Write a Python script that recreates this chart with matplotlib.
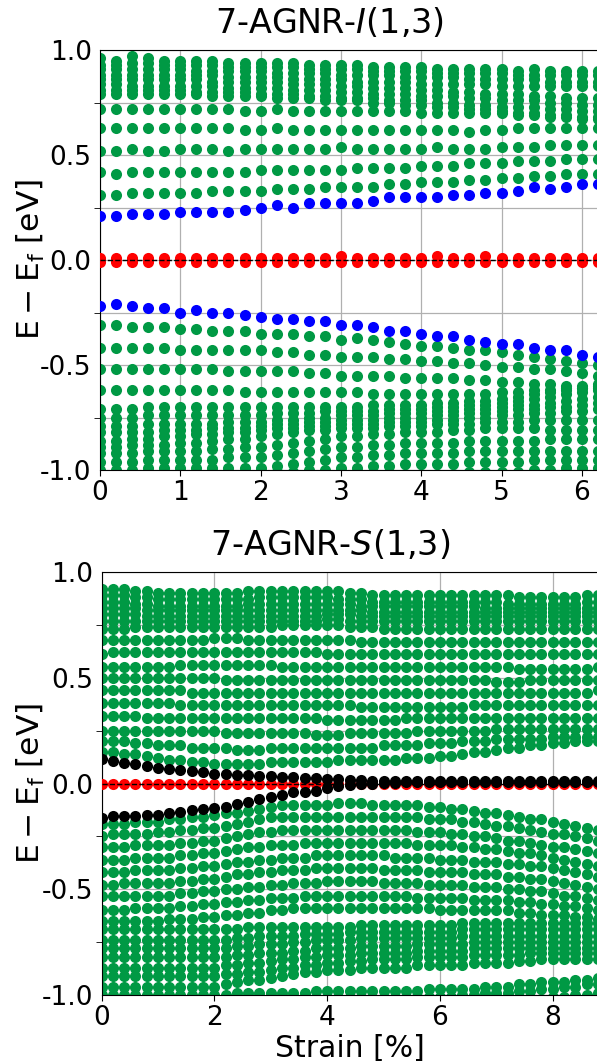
import matplotlib
matplotlib.use("Agg")
import matplotlib.pyplot as plt
import numpy as np

plt.rcParams['font.family'] = ['DejaVu Sans']
plt.rcParams['axes.unicode_minus'] = False

# ---------------- data ----------------
# strain values [%]
strain_top = [0.0, 0.2, 0.4, 0.6, 0.8, 1.0, 1.2, 1.4, 1.6, 1.8, 2.0, 2.2, 2.4, 2.6, 2.8, 3.0,
              3.2, 3.4, 3.6, 3.8, 4.0, 4.2, 4.4, 4.6, 4.8, 5.0, 5.2, 5.4, 5.6, 5.8, 6.0, 6.2]
strain_bot = [0.0, 0.2, 0.4, 0.6, 0.8, 1.0, 1.2, 1.4, 1.6, 1.8, 2.0, 2.2, 2.4, 2.6, 2.8, 3.0,
              3.2, 3.4, 3.6, 3.8, 4.0, 4.2, 4.4, 4.6, 4.8, 5.0, 5.2, 5.4, 5.6, 5.8, 6.0, 6.2,
              6.4, 6.6, 6.8, 7.0, 7.2, 7.4, 7.6, 7.8, 8.0, 8.2, 8.4, 8.6, 8.8]

# ---- top panel: 7-AGNR-I(1,3), energies in units of 0.01 eV ----
t_red1 = [1,1,1,1,1,1,1,1,1,1,1,1,1,1,1,2,1,1,1,1,1,2,1,1,2,1,1,1,1,1,1,1]
t_red2 = [-1,-1,-1,-1,-1,-1,-1,-1,-1,-1,-1,-1,-1,-1,-1,-1,-1,-1,-1,-1,-1,-1,-1,-1,-1,-1,-1,-1,-1,-1,-1,-1]
t_blue_up = [21,21,22,22,22,23,23,23,23,24,25,26,25,27,27,27,27,28,30,30,30,30,31,31,32,32,33,35,34,35,36,36]
t_blue_dn = [-22,-21,-22,-23,-23,-25,-24,-25,-25,-26,-27,-28,-28,-29,-29,-31,-31,-32,-34,-34,-35,-36,-36,-38,-39,-40,-40,-42,-43,-43,-45,-46]
t_g1 = [31,31,32,32,32,32,32,33,33,33,33,34,34,34,35,35,35,35,36,36,37,37,37,38,38,39,39,40,40,41,41,41]
t_g2 = [42,41,42,42,42,42,42,42,42,42,43,43,43,43,43,43,44,44,44,44,45,45,45,46,46,46,47,47,47,48,48,48]
t_g3 = [52,52,53,52,52,53,53,53,52,53,53,53,53,53,53,54,53,53,53,53,53,54,53,53,53,54,54,54,55,55,55,55]
t_g4 = [63,63,63,63,63,63,63,63,63,62,62,63,62,62,62,62,62,62,62,62,62,62,62,61,62,62,63,63,63,63,63,63]
t_g5 = [72,72,72,72,72,72,72,72,72,71,71,72,71,71,71,71,71,71,71,71,70,70,70,70,70,70,69,69,68,68,67,67]
t_c1 = [96,95,97,96,95,95,95,95,94,94,94,94,94,93,93,93,93,92,92,92,92,91,91,91,91,91,90,91,90,90,90,90]
t_c2 = [93,93,94,94,93,93,93,93,92,92,92,92,92,91,91,91,91,90,90,90,90,89,89,89,89,89,88,88,88,88,88,88]
t_c3 = [91,91,91,91,91,91,90,90,90,90,90,89,89,89,89,88,88,88,88,87,87,87,87,86,86,86,86,86,85,85,85,85]
t_c4 = [88,88,88,88,88,88,88,88,87,87,87,87,86,86,86,86,85,85,85,85,84,84,84,84,84,83,83,83,83,83,83,83]
t_c5 = [86,86,86,86,86,86,86,85,85,85,85,85,84,84,84,83,83,82,82,82,81,81,80,80,79,79,79,78,78,77,77,77]
t_c6 = [84,84,83,83,83,83,83,83,82,82,82,82,81,81,81,80,80,79,79,79,78,78,78,77,77,76,76,76,75,75,74,74]
t_c7 = [81,81,81,81,81,81,80,80,80,80,79,79,79,78,78,77,77,77,76,76,76,75,75,74,74,73,73,73,72,72,71,71]
t_c8 = [79,79,79,79,79,79,79,78,78,78,78,77,77,77,76,76,76,75,75,74,74,73,73,72,72,71,70,70,69,69,68,68]
t_l1 = [-31,-31,-32,-32,-32,-33,-33,-34,-34,-34,-35,-35,-35,-36,-36,-38,-37,-38,-39,-40,-41,-41,-42,-43,-43,-44,-45,-46,-47,-48,-49,-50]
t_l2 = [-42,-42,-42,-42,-42,-43,-43,-43,-43,-43,-43,-44,-44,-45,-45,-46,-46,-46,-47,-47,-48,-48,-49,-49,-50,-51,-51,-52,-52,-53,-54,-55]
t_l3 = [-52,-52,-52,-52,-52,-52,-52,-52,-53,-53,-53,-53,-53,-54,-54,-55,-55,-55,-55,-56,-56,-56,-56,-57,-57,-58,-58,-59,-59,-60,-61,-61]
t_l4 = [-62,-62,-62,-62,-62,-62,-62,-62,-62,-63,-63,-63,-63,-63,-63,-63,-63,-64,-64,-64,-64,-64,-64,-64,-64,-63,-63,-62,-62,-61,-61,-60]
t_k1 = [-71,-71,-71,-70,-70,-70,-70,-70,-70,-70,-70,-70,-70,-70,-70,-70,-70,-69,-69,-69,-69,-68,-68,-67,-67,-66,-65,-64,-63,-62,-60,-59]
t_k2 = [-75,-75,-75,-74,-74,-74,-74,-74,-74,-74,-74,-73,-73,-73,-72,-72,-72,-72,-71,-71,-71,-70,-70,-69,-69,-68,-67,-66,-65,-64,-63,-62]
t_k3 = [-79,-79,-79,-78,-78,-78,-78,-78,-77,-77,-77,-76,-76,-75,-75,-74,-74,-74,-73,-73,-73,-72,-72,-71,-71,-70,-69,-69,-68,-67,-66,-65]
t_k4 = [-82,-82,-82,-82,-81,-81,-81,-80,-80,-80,-79,-78,-78,-77,-77,-76,-76,-76,-75,-75,-75,-74,-74,-73,-73,-72,-71,-71,-70,-70,-69,-68]
t_k5 = [-86,-86,-85,-85,-84,-84,-83,-83,-82,-82,-81,-80,-80,-79,-79,-78,-78,-78,-77,-77,-77,-76,-76,-75,-75,-74,-74,-73,-73,-72,-72,-71]
t_k6 = [-89,-89,-88,-88,-88,-87,-87,-86,-85,-85,-84,-83,-82,-81,-81,-80,-80,-80,-79,-79,-79,-78,-78,-78,-77,-77,-77,-76,-76,-76,-76,-76]
t_k7 = [-92,-92,-92,-91,-91,-91,-91,-90,-90,-89,-89,-88,-87,-86,-85,-84,-84,-83,-83,-82,-82,-82,-81,-81,-80,-80,-80,-80,-81,-81,-81,-81]
t_k8 = [-96,-96,-96,-95,-95,-95,-95,-95,-94,-94,-94,-93,-92,-91,-90,-89,-89,-88,-88,-87,-87,-87,-87,-86,-86,-86,-86,-86,-85,-85,-85,-85]
t_k9 = [-100,-100,-100,-99,-99,-99,-99,-99,-99,-99,-99,-98,-97,-96,-95,-94,-94,-93,-93,-92,-92,-92,-92,-91,-91,-91,-91,-91,-91,-91,-91,-91]
t_k10 = [-104,-104,-104,-103,-103,-103,-103,-103,-102,-102,-102,-101,-101,-100,-100,-99,-99,-98,-98,-97,-97,-97,-97,-96,-96,-96,-96,-95,-95,-95,-95,-95]
t_k11 = [-108,-108,-107,-107,-107,-107,-107,-106,-106,-106,-106,-106,-105,-105,-104,-104,-104,-103,-103,-102,-102,-102,-102,-101,-101,-101,-101,-100,-100,-99,-99,-99]

# ---- bottom panel: 7-AGNR-S(1,3), energies in units of 0.01 eV ----
b_red = [0,0,0,0,0,0,0,0,0,0,0,0,0,0,0,0,0,0,0,0,0,0,0,0,0,0,0,0,0,0,0,0,0,0,0,0,0,0,0,0,0,0,0,0,0]
b_blk1 = [11.4,10.8,9.9,9.0,8.3,7.4,7.0,6.2,5.8,5.4,4.7,4.4,4.1,4.0,3.7,3.4,3.1,2.9,2.7,2.5,2.1,1.9,1.7,1.5,1.4,
          1.3,1.2,1.2,1.1,1.1,1.1,1.1,1.1,1.0,1.0,1.0,1.0,1.0,1.0,1.0,1.0,1.0,1.0,1.0,1.0]
b_blk2 = [-16.2,-15.6,-15.3,-15.3,-14.8,-14.8,-13.9,-13.3,-12.5,-12.0,-11.6,-10.9,-9.7,-8.6,-7.3,-6.2,-5.3,-4.2,-3.9,-3.4,
          -1.9,-1.1,-0.6,-0.2,0.0,0.2,0.4,0.5,0.5,0.6,0.6,0.6,0.6,0.6,0.6,0.6,0.6,0.6,0.6,0.6,0.6,0.6,0.6,0.6,0.6]
b_gu1 = [15,15,14,14,13,12,11,11,10,10,9,9,9,9,9,10,10,10,10,10,10,11,11,11,11,11,11,12,12,12,13,13,14,15,15,16,17,17,18,18,19,19,20,20,20]
b_gu2 = [20,20,20,19,19,18,18,18,17,17,17,17,16,16,16,17,17,17,17,17,17,17,17,17,17,18,18,18,18,19,19,19,20,20,20,21,21,21,21,21,22,22,22,22,22]
b_gu3 = [25,25,25,25,25,25,25,25,25,25,25,24,24,24,24,24,24,24,24,23,23,23,24,24,24,24,24,24,25,25,25,25,25,25,25,26,26,26,26,26,26,26,26,26,26]
b_gu4 = [32,32,32,32,31,31,31,31,31,31,31,31,31,31,31,31,31,31,31,31,30,30,30,30,30,30,30,31,31,31,31,31,31,31,31,31,31,31,31,31,31,31,31,31,31]
b_gu5 = [38,38,38,38,38,38,38,37,37,37,37,37,37,37,37,37,37,37,37,37,37,37,37,36,36,36,36,36,36,36,36,36,36,37,37,37,37,37,37,37,37,37,37,37,37]
b_gu6 = [44,44,44,44,44,44,44,44,43,43,43,43,43,43,43,43,43,43,43,43,43,43,43,43,43,43,43,43,43,43,43,43,43,43,43,43,43,43,43,43,43,43,43,43,44]
b_gu7 = [50,50,50,50,50,50,50,50,50,50,50,49,49,49,49,49,49,49,49,49,49,49,49,49,49,49,49,49,49,49,49,49,49,49,49,48,48,48,49,49,49,49,49,49,49]
b_gu8 = [55,55,55,55,55,55,55,56,56,56,56,56,56,56,56,56,55,55,55,55,55,55,55,55,55,55,55,55,55,55,55,55,55,55,55,55,55,54,54,54,54,54,54,54,55]
b_gu9 = [61,62,62,62,62,62,62,62,62,62,62,62,62,62,62,62,62,62,62,62,61,61,61,61,61,61,61,61,61,61,61,61,61,61,61,61,61,61,61,61,61,61,61,61,61]
b_gu10 = [68,68,68,68,68,68,68,68,68,68,69,69,69,68,68,68,68,68,68,68,68,68,68,67,67,67,67,67,67,67,67,67,67,67,67,67,67,67,67,67,67,67,67,67,67]
b_gu11 = [73,73,73,74,74,74,74,74,74,74,74,74,74,74,74,74,75,75,75,75,75,75,74,74,74,73,73,73,73,73,73,73,73,73,73,73,73,73,73,73,73,73,73,73,73]
b_cu1 = [77,77,77,77,77,77,77,77,77,77,77,77,77,77,77,77,77,77,77,77,78,78,77,77,77,77,77,77,77,77,77,77,77,77,77,77,77,77,77,77,77,77,77,77,77]
b_cu2 = [80,80,80,80,79,79,79,79,79,79,79,79,79,79,79,79,79,79,79,79,80,80,80,79,79,79,79,79,79,79,79,79,79,79,79,79,79,79,79,79,79,79,79,79,79]
b_cu3 = [83,83,83,83,82,82,82,82,82,82,82,82,82,82,82,82,82,82,82,82,82,82,82,82,81,81,81,81,81,81,81,81,81,81,81,81,81,81,81,81,81,81,81,81,81]
b_cu4 = [86,86,86,85,85,84,84,84,84,84,84,84,84,85,85,85,85,85,85,85,85,85,85,84,84,84,84,84,84,84,84,84,84,84,83,83,83,83,83,83,83,83,83,83,83]
b_cu5 = [89,89,89,88,88,87,87,87,87,87,87,87,87,87,88,88,88,88,88,88,88,87,87,87,86,86,86,86,86,86,86,86,86,86,86,86,85,85,85,85,85,85,85,86,86]
b_cu6 = [92,92,92,91,91,90,90,90,90,90,90,90,90,91,91,91,91,91,91,91,91,91,90,90,89,89,89,89,89,89,89,89,89,89,89,89,89,88,88,88,88,88,88,89,89]
b_gl1 = [-19,-19,-19,-18,-18,-18,-17,-17,-16,-16,-15,-14,-14,-13,-12,-11,-10,-10,-10,-10,-10,-9,-9,-9,-10,-10,-10,-10,-10,-11,-11,-12,-12,-13,-14,-14,-15,-16,-17,-17,-18,-19,-20,-21,-22]
b_gl2 = [-25,-24,-24,-24,-24,-23,-23,-22,-22,-21,-21,-20,-19,-18,-17,-16,-16,-16,-16,-16,-16,-16,-16,-16,-16,-16,-16,-16,-16,-17,-17,-17,-18,-18,-19,-20,-20,-21,-22,-23,-24,-24,-25,-26,-27]
b_gl3 = [-30,-30,-30,-29,-29,-29,-29,-28,-28,-27,-27,-26,-25,-24,-23,-23,-22,-22,-22,-22,-22,-22,-22,-22,-22,-22,-22,-22,-23,-23,-23,-24,-24,-25,-25,-26,-27,-27,-28,-29,-30,-30,-31,-32,-33]
b_gl4 = [-36,-36,-36,-35,-35,-35,-35,-34,-34,-33,-33,-32,-31,-30,-30,-29,-29,-29,-28,-28,-28,-28,-28,-28,-28,-28,-28,-28,-29,-29,-29,-29,-30,-30,-31,-31,-32,-33,-33,-34,-35,-36,-37,-38,-39]
b_gl5 = [-42,-42,-42,-41,-41,-41,-41,-40,-40,-39,-39,-38,-37,-37,-36,-36,-35,-35,-35,-34,-34,-34,-34,-34,-34,-34,-35,-35,-35,-35,-36,-36,-36,-37,-37,-37,-38,-38,-39,-39,-40,-41,-42,-43,-44]
b_gl6 = [-48,-48,-47,-47,-47,-47,-47,-46,-46,-45,-45,-44,-43,-43,-42,-42,-41,-41,-41,-40,-40,-40,-40,-40,-40,-41,-41,-41,-41,-42,-42,-42,-42,-43,-43,-43,-44,-44,-45,-45,-46,-47,-48,-49,-50]
b_gl7 = [-53,-53,-53,-53,-53,-53,-53,-52,-52,-51,-51,-50,-50,-49,-49,-48,-48,-47,-47,-47,-46,-46,-46,-46,-46,-47,-47,-47,-47,-48,-48,-48,-48,-49,-49,-49,-50,-50,-51,-51,-52,-53,-53,-54,-55]
b_gl8 = [-60,-60,-60,-59,-59,-59,-59,-58,-58,-57,-57,-56,-56,-55,-55,-54,-54,-54,-53,-53,-53,-53,-53,-53,-53,-53,-53,-53,-54,-54,-54,-54,-54,-55,-55,-55,-55,-56,-56,-57,-57,-58,-58,-59,-60]
b_gl9 = [-65,-65,-65,-65,-65,-65,-64,-64,-64,-63,-63,-62,-62,-61,-61,-60,-60,-59,-59,-59,-59,-59,-59,-59,-59,-59,-59,-59,-59,-59,-60,-60,-60,-60,-60,-60,-60,-61,-61,-62,-62,-62,-63,-63,-64]
b_cl1 = [-69,-69,-69,-69,-69,-69,-69,-69,-69,-69,-69,-69,-69,-68,-68,-68,-68,-68,-68,-68,-68,-68,-68,-67,-67,-67,-67,-67,-67,-67,-67,-67,-66,-66,-66,-66,-66,-66,-66,-66,-66,-66,-66,-66,-66]
b_cl2 = [-74,-74,-74,-74,-74,-74,-74,-74,-74,-74,-74,-74,-73,-73,-72,-72,-72,-72,-71,-71,-71,-71,-70,-70,-70,-70,-70,-70,-70,-70,-70,-70,-69,-69,-69,-69,-69,-69,-69,-69,-69,-69,-69,-69,-69]
b_cl3 = [-78,-78,-78,-78,-78,-78,-78,-78,-78,-78,-78,-78,-77,-77,-76,-76,-76,-75,-75,-74,-74,-74,-74,-73,-73,-73,-73,-73,-73,-73,-73,-73,-72,-72,-72,-72,-72,-72,-72,-72,-72,-72,-72,-72,-72]
b_cl4 = [-82,-82,-82,-82,-82,-82,-82,-82,-82,-82,-82,-82,-81,-81,-80,-80,-80,-79,-79,-78,-78,-78,-78,-77,-77,-77,-77,-77,-76,-76,-76,-76,-76,-75,-75,-75,-75,-75,-75,-75,-75,-75,-75,-75,-75]
b_cl5 = [-87,-87,-87,-87,-87,-87,-87,-87,-87,-87,-87,-86,-86,-85,-85,-84,-83,-83,-82,-82,-81,-81,-81,-80,-80,-80,-80,-80,-79,-79,-79,-79,-79,-78,-78,-78,-78,-78,-78,-78,-78,-78,-78,-78,-78]
b_cl6 = [-91,-91,-91,-91,-91,-91,-91,-91,-91,-91,-91,-90,-90,-89,-89,-88,-87,-87,-86,-86,-85,-85,-84,-84,-83,-83,-83,-83,-82,-82,-82,-82,-82,-81,-81,-81,-81,-81,-80,-80,-80,-80,-80,-80,-80]
b_cl7 = [-96,-96,-96,-96,-96,-96,-96,-96,-96,-96,-96,-95,-94,-93,-93,-92,-91,-90,-89,-89,-88,-88,-88,-87,-87,-87,-87,-87,-86,-86,-86,-86,-86,-85,-85,-85,-85,-84,-84,-83,-83,-83,-83,-83,-83]
b_bb1 = [-100,-100,-100,-100,-100,-100,-100,-100,-100,-100,-100,-100,-99,-99,-99,-99,-99,-99,-99,-98,-98,-98,-98,-98,-98,-98,-98,-98,-98,-97,-97,-97,-97,-97,-96,-96,-96,-95,-95,-94,-94,-94,-93,-93,-92]
b_bb2 = [-106,-106,-106,-105,-105,-105,-105,-105,-105,-105,-105,-105,-105,-104,-104,-104,-104,-104,-103,-103,-103,-103,-103,-102,-102,-102,-102,-102,-101,-101,-101,-101,-100,-100,-99,-99,-99,-98,-98,-97,-97,-96,-96,-95,-95]
b_bb3 = [-112,-112,-112,-111,-111,-111,-111,-110,-110,-110,-110,-110,-109,-109,-109,-109,-109,-108,-108,-108,-108,-108,-107,-107,-107,-107,-107,-106,-106,-106,-106,-106,-105,-105,-104,-104,-104,-103,-102,-102,-101,-101,-100,-100,-99]

titles = [r'7-AGNR-$\mathit{I}$(1,3)', r'7-AGNR-$\mathit{S}$(1,3)']
ylabel = r'$\mathrm{E - E_f}$ [eV]'
xlabel = 'Strain [%]'
xticks_top = [0, 1, 2, 3, 4, 5, 6]
xticks_bot = [0, 2, 4, 6, 8]

# ---------------- style ----------------
GREEN = '#009944'
BLUE = '#0000FF'
RED = '#FF0000'
BLACK = '#000000'
MS = 64

top_green = [t_g1, t_g2, t_g3, t_g4, t_g5, t_c1, t_c2, t_c3, t_c4, t_c5, t_c6, t_c7, t_c8,
             t_l1, t_l2, t_l3, t_l4, t_k1, t_k2, t_k3, t_k4, t_k5, t_k6, t_k7, t_k8, t_k9, t_k10, t_k11]
top_special = [(t_blue_up, BLUE), (t_blue_dn, BLUE), (t_red1, RED), (t_red2, RED)]
bot_green = [b_gu1, b_gu2, b_gu3, b_gu4, b_gu5, b_gu6, b_gu7, b_gu8, b_gu9, b_gu10, b_gu11,
             b_cu1, b_cu2, b_cu3, b_cu4, b_cu5, b_cu6,
             b_gl1, b_gl2, b_gl3, b_gl4, b_gl5, b_gl6, b_gl7, b_gl8, b_gl9,
             b_cl1, b_cl2, b_cl3, b_cl4, b_cl5, b_cl6, b_cl7, b_bb1, b_bb2, b_bb3]
bot_special = [(b_red, RED), (b_blk1, BLACK), (b_blk2, BLACK)]

W, H = 597, 1061
fig = plt.figure(figsize=(W / 100, H / 100), dpi=100)

def px_axes(left, top, right, bottom):
    return fig.add_axes([left / W, 1 - bottom / H, (right - left) / W, (bottom - top) / H])

top_left, top_unit = 100, 80.3
bot_left, bot_unit = 101.5, 56.4
ax1 = px_axes(top_left, 50, top_left + 7 * top_unit, 470)
ax2 = px_axes(bot_left, 572, bot_left + 10 * bot_unit, 995)

def draw(ax, x, greens, specials, xmax, xticks, title, left, with_xlabel):
    span = xmax * (top_unit if ax is ax1 else bot_unit)
    for band in greens:
        n = min(len(x), len(band))
        ax.scatter(x[:n], np.array(band[:n]) / 100.0, s=MS, color=GREEN, linewidths=0, zorder=2)
    for band, col in specials:
        n = min(len(x), len(band))
        ax.scatter(x[:n], np.array(band[:n]) / 100.0, s=MS, color=col, linewidths=0, zorder=3)
    ax.axhline(0.0, color='black', ls='--', lw=1.0, zorder=4)
    ax.set_xlim(0, xmax)
    ax.set_ylim(-1.0, 1.0)
    ax.set_xticks(xticks)
    ax.set_yticks([-1.0, -0.5, 0.0, 0.5, 1.0])
    ax.set_yticks([-0.75, -0.25, 0.25, 0.75], minor=True)
    ax.grid(True, which='both', color='#b0b0b0', lw=0.9, zorder=0)
    ax.set_axisbelow(True)
    ax.tick_params(axis='both', which='major', labelsize=19)
    ax.tick_params(axis='y', which='major', length=0, pad=6)
    ax.tick_params(axis='y', which='minor', length=4)
    ax.tick_params(axis='x', which='major', length=4)
    ax.set_title(title, fontsize=24, pad=12, x=(330 - left) / span)
    ax.set_ylabel(ylabel, fontsize=22.5)
    ax.yaxis.set_label_coords((47 - left) / span, 0.5)
    if with_xlabel:
        ax.set_xlabel(xlabel, fontsize=21.5)
        ax.xaxis.set_label_coords((350 - left) / span, -0.092)

draw(ax1, strain_top, top_green, top_special, 7.0, xticks_top, titles[0], top_left, False)
draw(ax2, strain_bot, bot_green, bot_special, 10.0, xticks_bot, titles[1], bot_left, True)

fig.savefig('out.png', dpi=100)
